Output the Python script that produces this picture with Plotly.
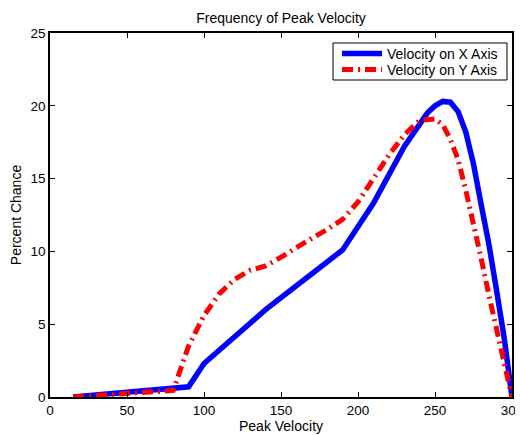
import plotly.graph_objects as go

x_blue = [15, 90, 100, 140, 190, 210, 230, 245, 250, 255, 260, 265, 270, 275, 280, 285, 290, 295, 300]
y_blue = [0.0, 0.7, 2.3, 6.0, 10.1, 13.3, 17.2, 19.5, 20.0, 20.3, 20.25, 19.6, 18.2, 16.0, 13.2, 10.5, 7.3, 4.0, 0.0]

x_red = [15, 80, 90, 100, 110, 120, 130, 140, 150, 160, 170, 180, 190, 200, 210, 220, 230, 240, 250, 255, 260, 265, 270, 275, 280, 285, 290, 295, 300]
y_red = [0.0, 0.45, 3.5, 5.6, 7.1, 8.1, 8.7, 9.0, 9.6, 10.3, 10.9, 11.5, 12.2, 13.4, 15.0, 16.6, 18.0, 19.0, 19.1, 18.7, 17.7, 16.3, 14.2, 12.0, 9.5, 7.0, 4.5, 2.3, 0.0]

series_names = ["Velocity on X Axis", "Velocity on Y Axis"]
x_ticks = [0, 50, 100, 150, 200, 250, 300]
y_ticks = [0, 5, 10, 15, 20, 25]

font = "Liberation Sans, Arial, sans-serif"

# page body has an 8px margin; figure spans 8..523 x 8..435 of the window
W, H = 515, 427
L, R, T, B = 42, 11, 25, 38
PW, PH = W - L - R, H - T - B


def px_x(fx):
    return (fx - L) / PW


def px_y(fy):
    return 1 - (fy - T) / PH


fig = go.Figure()
fig.add_trace(go.Scatter(x=x_blue, y=y_blue, mode="lines", name=series_names[0],
                         line=dict(color="#0000ff", width=5.5), legend="legend"))
fig.add_trace(go.Scatter(x=x_red, y=y_red, mode="lines", name=series_names[1],
                         line=dict(color="#ff0000", width=5, dash="11px,5px,2px,5px"), legend="legend2"))

axis_common = dict(showline=True, linecolor="black", linewidth=1.5, mirror="ticks",
                   ticks="inside", ticklen=5, tickcolor="black", showgrid=False,
                   zeroline=False, automargin=False, ticklabeloverflow="allow",
                   tickfont=dict(size=13.5, color="black", family=font))

leg_common = dict(xanchor="left", yanchor="middle", borderwidth=0, bgcolor="rgba(0,0,0,0)",
                  font=dict(size=14, color="black", family=font), itemwidth=40)

fig.update_layout(
    width=W, height=H,
    margin=dict(l=L, r=R, t=T, b=B),
    plot_bgcolor="white", paper_bgcolor="white",
    title=dict(text="Frequency of Peak Velocity", x=(L + PW / 2) / W, xanchor="center",
               y=1 - 10 / H, yanchor="middle", font=dict(size=14, color="black", family=font)),
    xaxis=dict(range=[0, 300], tickvals=x_ticks,
               title=dict(text="Peak Velocity", font=dict(size=14, color="black", family=font), standoff=2),
               **axis_common),
    yaxis=dict(range=[0, 25], tickvals=y_ticks,
               title=dict(text="Percent Chance", font=dict(size=14, color="black", family=font), standoff=6),
               **axis_common),
    legend=dict(x=px_x(329), y=px_y(46), **leg_common),
    legend2=dict(x=px_x(329), y=px_y(62), **leg_common),
    shapes=[dict(type="rect", xref="paper", yref="paper",
                 x0=px_x(325), x1=px_x(499), y0=px_y(72), y1=px_y(35),
                 line=dict(color="black", width=1), fillcolor="white", layer="above")],
    showlegend=True,
)

fig.write_html("out.html")
